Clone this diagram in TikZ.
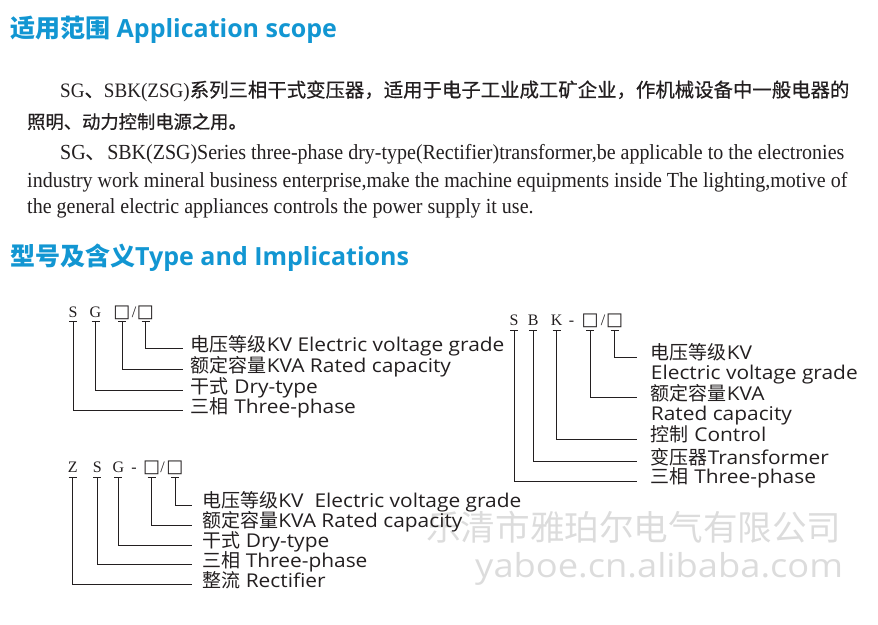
\documentclass[tikz,border=0pt]{standalone}
\usepackage{fontspec}
\setmainfont{Liberation Serif}
\newfontfamily\cjk{Noto Sans CJK SC}
\newfontfamily\cjkbody[FakeBold=0.6]{Noto Sans CJK SC}
\newfontfamily\headsans{Open Sans}
\newfontfamily\latsans[FakeStretch=1.1]{Open Sans}
\newfontfamily\bodyserif[FakeStretch=0.93]{Liberation Serif}
\newfontfamily\symfont{DejaVu Sans}
\usetikzlibrary{positioning}
\definecolor{headblue}{RGB}{18,150,210}
\definecolor{inkgray}{RGB}{35,31,32}
\definecolor{markgray}{RGB}{220,220,220}
\newcommand{\zh}[1]{{\cjk #1}}
\tikzset{
  heading/.style={anchor=base west, inner sep=0pt, text=headblue,
    font=\headsans\bfseries\fontsize{25}{25}\selectfont},
  bodyzh/.style={anchor=base west, inner sep=0pt, text=inkgray,
    font=\cjkbody\fontsize{19.4}{20}\selectfont},
  bodyen/.style={anchor=base west, inner sep=0pt, text=inkgray,
    font=\bodyserif\fontsize{21.5}{22}\selectfont},
  codechar/.style={anchor=south, inner sep=0pt, text height=11pt, text depth=4pt,
    text=inkgray, font=\fontsize{16}{16}\selectfont},
  codebox/.style={codechar, font=\symfont\fontsize{18}{18}\selectfont},
  meaning/.style={anchor=west, inner ysep=0pt, text height=0.66em, text depth=0.08em,
    text=inkgray, font=\latsans\fontsize{19}{20}\selectfont},
  leadln/.style={line width=0.8pt, inkgray},
  wmark/.style={anchor=base west, inner sep=0pt, text=markgray},
}

\begin{document}
\begin{tikzpicture}[x=1pt, y=-1pt]
  \useasboundingbox (0,0) rectangle (878,624);
  % --- headings ---
  \node[heading] (scope) at (10,37.5) {\zh{适用范围} Application scope};
  \node[heading] (types) at (10,265) {\zh{型号及含义}Type and Implications};
  % --- description ---
  \node[bodyzh] (zhA) at (60,97) {{\bodyserif\fontsize{20.5}{20}\selectfont SG}、{\bodyserif\fontsize{20.5}{20}\selectfont SBK(ZSG)}系列三相干式变压器，适用于电子工业成工矿企业，作机械设备中一般电器的};
  \node[bodyzh, font=\cjkbody\fontsize{18.3}{20}\selectfont] (zhB) at (27,128.5) {照明、动力控制电源之用。};
  \node[bodyen] (enA) at (60,159.5) {SG\zh{、}SBK(ZSG)Series three-phase dry-type(Rectifier)transformer,be applicable to the electronies};
  \node[bodyen] (enB) at (27,187.5) {industry work mineral business enterprise,make the machine equipments inside The lighting,motive of};
  \node[bodyen] (enC) at (27,213.5) {the general electric appliances controls the power supply it use.};
  % --- watermark ---
  \node[wmark, font=\cjk\fontsize{34.6}{36}\selectfont] (wmCo) at (426,540) {乐清市雅珀尔电气有限公司};
  \node[wmark, font=\latsans\fontsize{33}{34}\selectfont] (wmUrl) at (475,577) {yaboe.cn.alibaba.com};
  % --- SG type code ---
  \begin{scope}[meaning/.append style={inner xsep=8pt}]
    \node[codechar] (sgS) at (73,321.7) {S};
    \node[codechar] (sgG) at (95.5,321.7) {G};
    \node[codebox] (sgA) at (122,321.7) {□};
    \node[codechar] (sgSl) at (134,321.7) {/};
    \node[codebox] (sgB) at (145.5,321.7) {□};
    \node[meaning] (sgVolt) at (182.7,348.5) {\zh{电压等级}KV Electric voltage grade};
    \node[meaning] (sgCap) at (182.7,369.5) {\zh{额定容量}KVA Rated capacity};
    \node[meaning] (sgDry) at (182.7,390.5) {\zh{干式} Dry-type};
    \node[meaning] (sgPh) at (182.7,410.5) {\zh{三相} Three-phase};
    \foreach \n in {sgS,sgG,sgA,sgB}
      \draw[leadln] ([xshift=-4pt]\n.south) -- ([xshift=4pt]\n.south);
    \draw[leadln] (sgB.south) |- (sgVolt.west);
    \draw[leadln] (sgA.south) |- (sgCap.west);
    \draw[leadln] (sgG.south) |- (sgDry.west);
    \draw[leadln] (sgS.south) |- (sgPh.west);
  \end{scope}
  % --- SBK type code ---
  \begin{scope}[meaning/.append style={inner xsep=14pt}]
    \node[codechar] (sbS) at (514,330) {S};
    \node[codechar] (sbB) at (533.3,330) {B};
    \node[codechar] (sbK) at (556.7,330) {K};
    \node[codechar] (sbDa) at (571.5,330) {-};
    \node[codebox] (sbA) at (590,330) {□};
    \node[codechar] (sbSl) at (603,330) {/};
    \node[codebox] (sbB2) at (614.5,330) {□};
    \node[meaning] (sbVolt) at (636.7,357) {\zh{电压等级}KV};
    \node[meaning] (sbVoltE) at (636.7,377) {Electric voltage grade};
    \node[meaning] (sbCap) at (636.7,397.5) {\zh{额定容量}KVA};
    \node[meaning] (sbCapE) at (636.7,418) {Rated capacity};
    \node[meaning] (sbCtl) at (636.7,439) {\zh{控制} Control};
    \node[meaning] (sbTr) at (636.7,461.5) {\zh{变压器}Transformer};
    \node[meaning] (sbPh) at (636.7,481) {\zh{三相} Three-phase};
    \foreach \n in {sbS,sbB,sbK,sbA,sbB2}
      \draw[leadln] ([xshift=-4pt]\n.south) -- ([xshift=4pt]\n.south);
    \draw[leadln] (sbB2.south) |- (sbVolt.west);
    \draw[leadln] (sbA.south) |- (sbCap.west);
    \draw[leadln] (sbK.south) |- (sbCtl.west);
    \draw[leadln] (sbB.south) |- (sbTr.west);
    \draw[leadln] (sbS.south) |- (sbPh.west);
  \end{scope}
  % --- ZSG type code ---
  \begin{scope}[meaning/.append style={inner xsep=10.5pt}]
    \node[codechar] (zsZ) at (72.7,477) {Z};
    \node[codechar] (zsS) at (97.3,477) {S};
    \node[codechar] (zsG) at (118.3,477) {G};
    \node[codechar] (zsDa) at (134,477) {-};
    \node[codebox] (zsA) at (151.7,477) {□};
    \node[codechar] (zsSl) at (162.5,477) {/};
    \node[codebox] (zsB) at (175,477) {□};
    \node[meaning] (zsVolt) at (191.7,505) {\zh{电压等级}KV\ \ Electric voltage grade};
    \node[meaning] (zsCap) at (191.7,525) {\zh{额定容量}KVA Rated capacity};
    \node[meaning] (zsDry) at (191.7,545) {\zh{干式} Dry-type};
    \node[meaning] (zsPh) at (191.7,564.5) {\zh{三相} Three-phase};
    \node[meaning] (zsRec) at (191.7,584.5) {\zh{整流} Rectifier};
    \foreach \n in {zsZ,zsS,zsG,zsA,zsB}
      \draw[leadln] ([xshift=-4pt]\n.south) -- ([xshift=4pt]\n.south);
    \draw[leadln] (zsB.south) |- (zsVolt.west);
    \draw[leadln] (zsA.south) |- (zsCap.west);
    \draw[leadln] (zsG.south) |- (zsDry.west);
    \draw[leadln] (zsS.south) |- (zsPh.west);
    \draw[leadln] (zsZ.south) |- (zsRec.west);
  \end{scope}
\end{tikzpicture}
\end{document}
